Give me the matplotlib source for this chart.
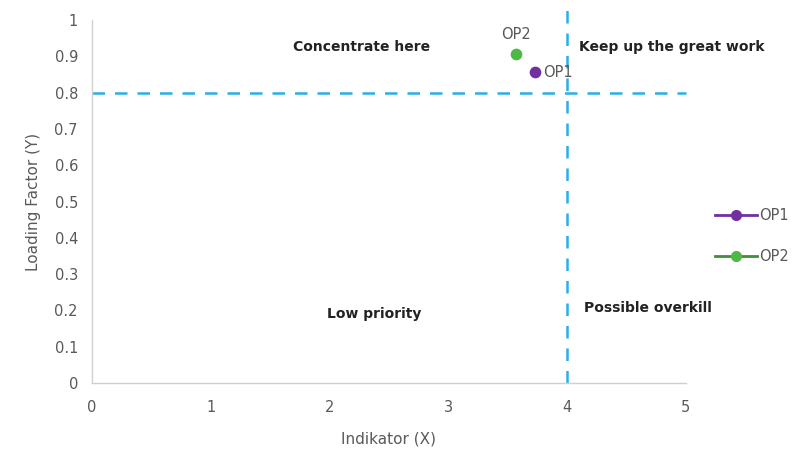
import matplotlib
matplotlib.use("Agg")
import matplotlib.pyplot as plt
from matplotlib.lines import Line2D

# Points: indicator (X) vs loading factor (Y)
names = ["OP1", "OP2"]
x_vals = [3.73, 3.57]
y_vals = [0.857, 0.906]
colors = ["#7030A0", "#4CB944"]
line_colors = ["#7030A0", "#3E8E3A"]

# Quadrant thresholds
x_cut = 4
y_cut = 0.8

x_ticks = [0, 1, 2, 3, 4, 5]
y_ticks = [0, 0.1, 0.2, 0.3, 0.4, 0.5, 0.6, 0.7, 0.8, 0.9, 1]
y_ticklabels = ["0", "0.1", "0.2", "0.3", "0.4", "0.5", "0.6", "0.7", "0.8", "0.9", "1"]

gray = "#595959"
dash_color = "#2AAEE6"

fig = plt.figure(figsize=(7.92, 4.53), dpi=100)
ax = fig.add_axes([0.116, 0.1545, 0.75, 0.801])

for n, x, y, c in zip(names, x_vals, y_vals, colors):
    ax.scatter(x, y, s=55, color=c, zorder=3, clip_on=False)

ax.annotate("OP1", (x_vals[0], y_vals[0]), xytext=(6, 0), textcoords="offset points",
            ha="left", va="center", fontsize=10.5, color=gray)
ax.annotate("OP2", (x_vals[1], y_vals[1]), xytext=(0, 9), textcoords="offset points",
            ha="center", va="bottom", fontsize=10.5, color=gray)

# quadrant dividers
ax.plot([x_cut, x_cut], [0, 1.03], ls=(0, (5, 4)), lw=1.8, color=dash_color, clip_on=False)
ax.plot([0, 5], [y_cut, y_cut], ls=(0, (5, 4)), lw=1.8, color=dash_color, clip_on=False)

ax.text(2.27, 0.925, "Concentrate here", ha="center", va="center", fontsize=10,
        fontweight="bold", color="#222222")
ax.text(4.1, 0.925, "Keep up the great work", ha="left", va="center", fontsize=10,
        fontweight="bold", color="#222222")
ax.text(2.38, 0.19, "Low priority", ha="center", va="center", fontsize=10,
        fontweight="bold", color="#222222")
ax.text(4.14, 0.207, "Possible overkill", ha="left", va="center", fontsize=10,
        fontweight="bold", color="#222222")

ax.set_xlim(0, 5)
ax.set_ylim(0, 1)
ax.set_xticks(x_ticks)
ax.set_yticks(y_ticks)
ax.set_yticklabels(y_ticklabels)
ax.tick_params(length=0, labelsize=10.5, labelcolor=gray, pad=12)
ax.tick_params(axis="y", pad=10)

for side in ["top", "right"]:
    ax.spines[side].set_visible(False)
for side in ["left", "bottom"]:
    ax.spines[side].set_color("#D0D0D0")
    ax.spines[side].set_linewidth(1)

ax.set_xlabel("Indikator (X)", fontsize=11, color=gray, labelpad=12)
ax.set_ylabel("Loading Factor (Y)", fontsize=11, color=gray, labelpad=10)

handles = [Line2D([0], [0], color=lc, marker="o", markerfacecolor=c, markeredgecolor=c,
                  markersize=7, lw=2) for c, lc in zip(colors, line_colors)]
leg = fig.legend(handles, names, loc="center left", bbox_to_anchor=(0.89, 0.479),
                 frameon=False, fontsize=10.5, handlelength=2.9, handletextpad=0.1,
                 labelspacing=1.75, borderpad=0.2)
for t in leg.get_texts():
    t.set_color(gray)

fig.savefig("out.png", dpi=100)
